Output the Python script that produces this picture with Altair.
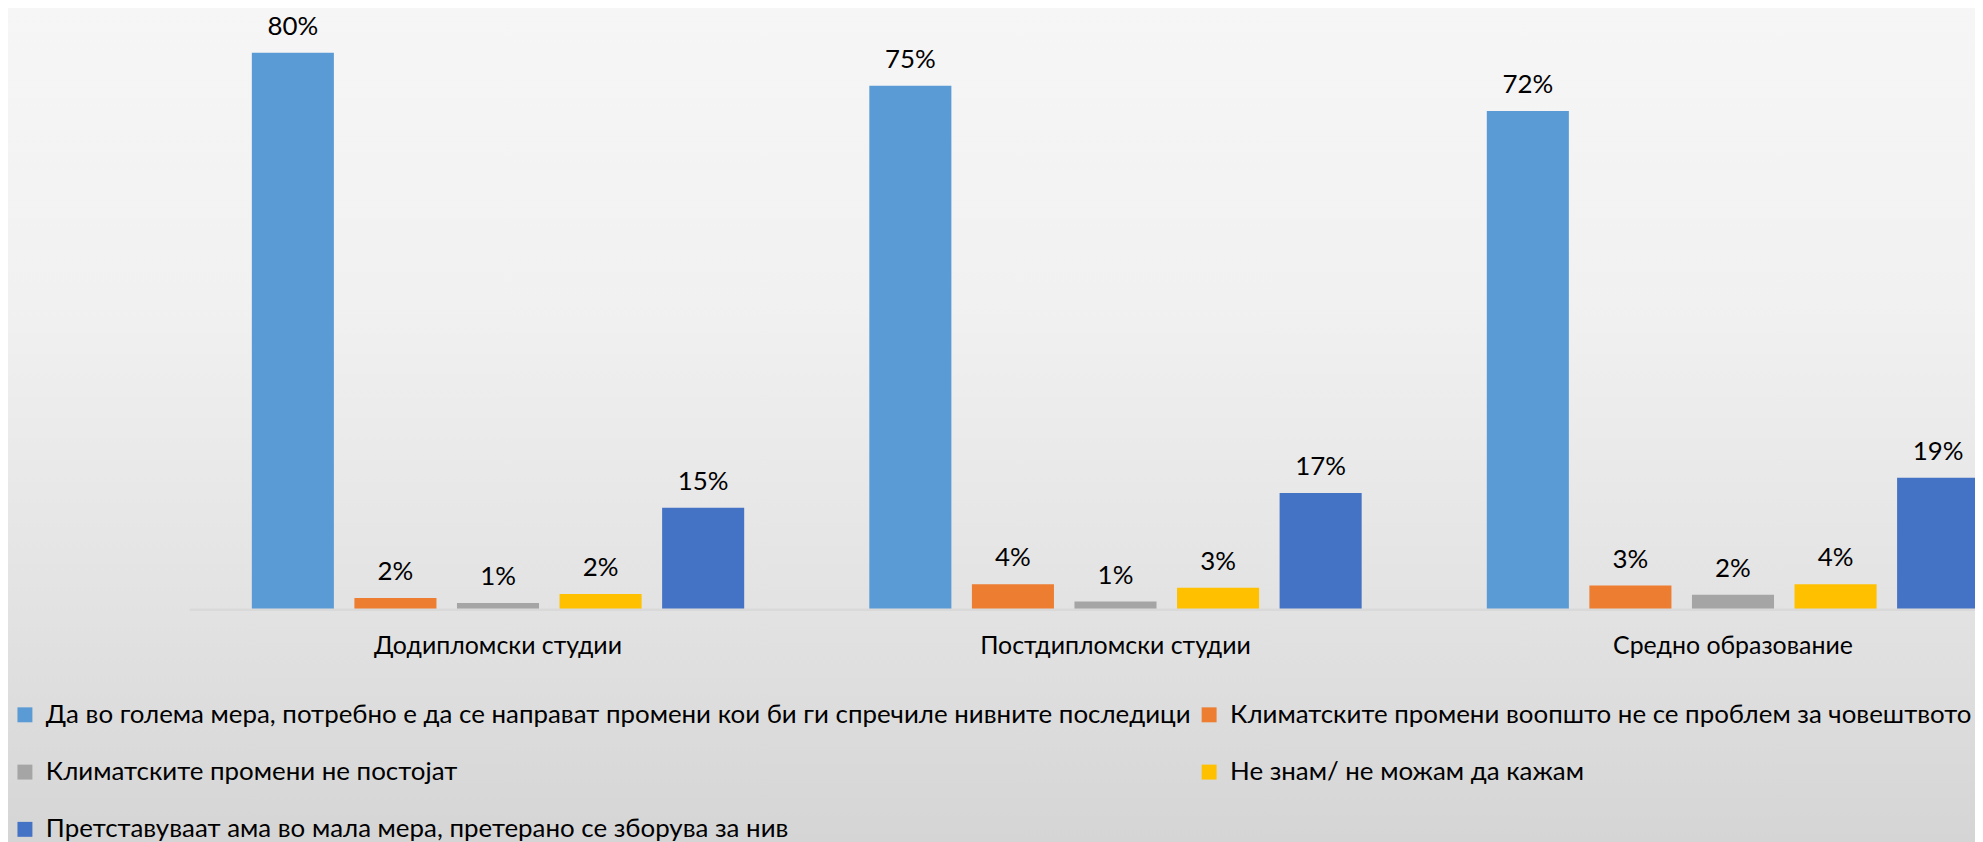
import altair as alt
import pandas as pd

FONT = "Lato"

categories = ["Додипломски студии", "Постдипломски студии", "Средно образование"]
series = [
    "Да во голема мера, потребно е да се направат промени кои би ги спречиле нивните последици",
    "Климатските промени воопшто не се проблем за човештвото",
    "Климатските промени не постојат",
    "Не знам/ не можам да кажам",
    "Претставуваат ама во мала мера, претерано се зборува за нив",
]
colors = ["#5B9BD5", "#ED7D31", "#A5A5A5", "#FFC000", "#4472C4"]

# percent values per series, one per category
s_yes_big = [79.96, 75.2, 71.6]
s_no_problem = [1.6, 3.6, 3.4]
s_not_exist = [0.9, 1.1, 2.1]
s_dont_know = [2.2, 3.1, 3.6]
s_small = [14.6, 16.7, 18.9]
all_series = [s_yes_big, s_no_problem, s_not_exist, s_dont_know, s_small]

rows = []
for si, (name, vals) in enumerate(zip(series, all_series)):
    for ci, cat in enumerate(categories):
        rows.append({"category": cat, "series": name, "value": vals[ci]})
df = pd.DataFrame(rows)

W, H = 1793, 594

x_enc = alt.X(
    "category:N",
    sort=categories,
    scale=alt.Scale(range=[0, 1860], paddingInner=0, paddingOuter=0),
    axis=alt.Axis(
        title=None, labelAngle=0, ticks=False, tickSize=0,
        domainColor="#d9d9d9", domainWidth=2.5,
        labelFont=FONT, labelFontSize=25, labelColor="#000000",
        labelBaseline="alphabetic", labelPadding=44, grid=False,
        labelLimit=600, zindex=1,
    ),
)
xo_enc = alt.XOffset("series:N", sort=series,
                     scale=alt.Scale(paddingInner=0.2, paddingOuter=0.61))
y_enc = alt.Y("value:Q", scale=alt.Scale(domain=[0, 85]), axis=None)

bg = alt.Chart(pd.DataFrame({"k": [0]})).mark_rect(
    color=alt.Gradient(
        gradient="linear",
        stops=[
            alt.GradientStop(color="#f6f6f6", offset=0),
            alt.GradientStop(color="#f1f1f1", offset=0.35),
            alt.GradientStop(color="#e2e2e2", offset=0.72),
            alt.GradientStop(color="#d4d4d4", offset=1),
        ],
        x1=0, x2=0, y1=0, y2=1,
    )
).encode(x=alt.value(-190), x2=alt.value(W + 10), y=alt.value(-16), y2=alt.value(H + 250))

bars = alt.Chart(df).mark_bar().encode(
    x=x_enc,
    xOffset=xo_enc,
    y=y_enc,
    color=alt.Color(
        "series:N", sort=series,
        scale=alt.Scale(domain=series, range=colors),
        legend=alt.Legend(
            title=None, orient="none", legendX=-178, legendY=687,
            columns=2, direction="horizontal", symbolType="square", symbolSize=225,
            symbolStrokeWidth=0, labelFont=FONT, labelFontSize=26,
            labelColor="#000000", labelLimit=3000, labelOffset=8,
            rowPadding=31.5, columnPadding=4, padding=0,
        ),
    ),
)

labels = alt.Chart(df).transform_calculate(
    label="format(datum.value / 100, '.0%')"
).mark_text(
    dy=-18, baseline="alphabetic", font=FONT, fontSize=26, color="#000000"
).encode(
    x=x_enc, xOffset=xo_enc, y=y_enc, text="label:N"
)

chart = alt.layer(bg, bars, labels).properties(
    width=W, height=H,
    autosize=alt.AutoSizeParams(type="none"),
    padding={"left": 182, "top": 8, "right": 0, "bottom": 232},
).configure_view(stroke=None).configure(background="#f5f5f5")

chart.save("out.html", embed_options={"renderer": "svg", "actions": False})
